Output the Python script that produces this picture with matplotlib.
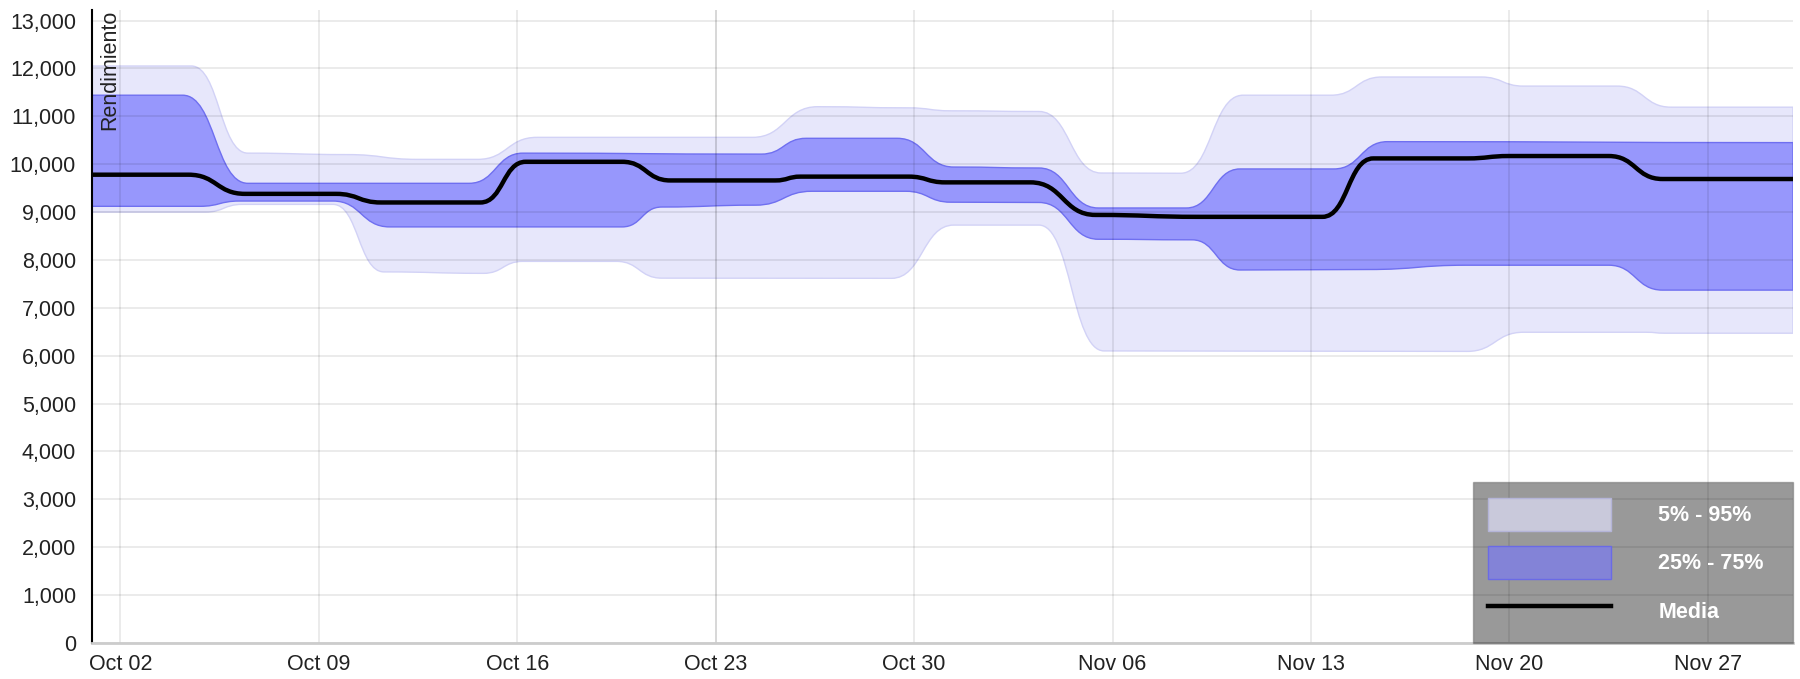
import numpy as np
import matplotlib
matplotlib.use("Agg")
import matplotlib.pyplot as plt
import matplotlib.dates as mdates
from matplotlib.patches import Patch, PathPatch
from matplotlib.path import Path
from matplotlib.lines import Line2D
from matplotlib.ticker import FuncFormatter

plt.rcParams["font.family"] = "Liberation Sans"

## Data, x = days since Oct 01
start = np.datetime64("2017-10-01T00:00")

media_days = [0, 3.4, 5.4, 8.6, 10.2, 13.7, 15.3, 18.7, 20.4, 24.1, 25.0, 28.8, 30.1,
              33.1, 35.4, 39.1, 43.4, 45.2, 48.5, 50.0, 53.5, 55.4, 60]
media_vals = [9780, 9780, 9380, 9380, 9200, 9200, 10050, 10050, 9660, 9660, 9740, 9740, 9620,
              9620, 8940, 8900, 8900, 10120, 10120, 10170, 10170, 9690, 9690]

p75_days = [0, 3.2, 5.5, 13.3, 15.2, 23.6, 25.2, 28.4, 30.4, 33.4, 35.5, 38.6, 40.5,
            43.8, 45.7, 60]
p75_vals = [11440, 11440, 9600, 9600, 10230, 10210, 10540, 10540, 9940, 9920, 9085, 9085, 9900,
            9900, 10470, 10450]

p25_days = [0, 3.8, 5.2, 8.5, 10.5, 18.7, 20.1, 23.4, 25.4, 28.7, 30.3, 33.4, 35.5, 38.8,
            40.5, 45.0, 48.5, 53.5, 55.4, 60]
p25_vals = [9120, 9120, 9230, 9230, 8690, 8690, 9105, 9144, 9434, 9434, 9206, 9200, 8432, 8420,
            7790, 7800, 7890, 7890, 7370, 7370]

p95_days = [0, 3.5, 5.5, 9.0, 11.5, 13.6, 15.7, 23.3, 25.6, 28.8, 30.3, 33.4, 35.6, 38.4,
            40.6, 43.7, 45.5, 49.0, 50.5, 53.8, 55.7, 60]
p95_vals = [12050, 12050, 10230, 10200, 10100, 10100, 10560, 10560, 11200, 11176, 11114, 11100,
            9815, 9810, 11440, 11440, 11820, 11820, 11630, 11630, 11190, 11190]

p05_days = [0, 4.0, 5.3, 8.5, 10.3, 13.8, 15.2, 18.5, 20.1, 28.2, 30.4, 33.4, 35.7, 48.5,
            50.5, 54.8, 55.5, 60]
p05_vals = [9000, 9000, 9160, 9160, 7750, 7720, 7970, 7970, 7620, 7616, 8728, 8728, 6100, 6090,
            6490, 6490, 6470, 6470]

legend_labels = ["5% - 95%", "25% - 75%", "Media"]


def to_num(days):
    d = start + np.round(np.asarray(days) * 24 * 60).astype(int).astype("timedelta64[m]")
    return mdates.date2num(d)


def smooth(xs, ys):
    # bezier segments with flat tangents at each point, like the original chart's curves
    verts = [(xs[0], ys[0])]
    codes = [Path.MOVETO]
    for i in range(1, len(xs)):
        xm = (xs[i - 1] + xs[i]) / 2
        verts += [(xm, ys[i - 1]), (xm, ys[i]), (xs[i], ys[i])]
        codes += [Path.CURVE4] * 3
    return verts, codes


def band(days_up, up, days_lo, lo):
    v1, c1 = smooth(to_num(days_up), up)
    v2, c2 = smooth(to_num(days_lo)[::-1], lo[::-1])
    c2[0] = Path.LINETO
    return Path(v1 + v2 + [v1[0]], c1 + c2 + [Path.CLOSEPOLY])


fig = plt.figure(figsize=(18, 6.79), dpi=100)
ax = fig.add_axes([0.0511, 0.053, 0.945, 0.9323])

ax.add_patch(PathPatch(band(p95_days, p95_vals, p05_days, p05_vals),
                       facecolor="#e7e7fb", edgecolor="#d2d2f6", lw=1, zorder=1))
ax.add_patch(PathPatch(band(p75_days, p75_vals, p25_days, p25_vals),
                       facecolor="#9797fc", edgecolor="#6f6ff0", lw=1, zorder=1.1))
mv, mc = smooth(to_num(media_days), media_vals)
ax.add_patch(PathPatch(Path(mv, mc), fill=False, edgecolor="black", lw=3.2, zorder=3,
                       joinstyle="round"))

ax.set_xlim(to_num([0, 60]))
ax.set_ylim(0, 13220)
ax.set_yticks(np.arange(0, 13001, 1000))
ax.yaxis.set_major_formatter(FuncFormatter(lambda v, p: "{:,.0f}".format(v)))
ax.xaxis.set_major_locator(mdates.WeekdayLocator(byweekday=mdates.MO))
ax.xaxis.set_major_formatter(mdates.DateFormatter("%b %d"))

ax.grid(True, color="black", alpha=0.1, lw=1.1)
ax.get_xgridlines()[3].set_alpha(0.2)

for s in ["top", "right"]:
    ax.spines[s].set_visible(False)
ax.spines["left"].set_color("black")
ax.spines["left"].set_linewidth(1.5)
ax.spines["bottom"].set_color("#cccccc")
ax.spines["bottom"].set_linewidth(2)

ax.tick_params(axis="y", length=0, pad=11.5, labelsize=15.5, labelcolor="#222222")
ax.tick_params(axis="x", length=0, pad=8, labelsize=15.5, labelcolor="#222222")

ax.text(0.0106, 1.0, "Rendimiento", rotation=90, ha="center", va="top",
        transform=ax.transAxes, fontsize=15.5, color="#222222")

handles = [Patch(facecolor="#c9c9db", edgecolor="#b4b4d8"),
           Patch(facecolor="#8383d7", edgecolor="#6a6ae6"),
           Line2D([], [], color="black", lw=3.2)]
leg = ax.legend(handles, legend_labels, loc="lower left", bbox_to_anchor=(0.8119, 0, 0.1881, 0.26),
                mode="expand", borderaxespad=0, fancybox=False, facecolor="black",
                framealpha=0.4, edgecolor="#555555", labelcolor="white", handlelength=5.7,
                handleheight=1.985, handletextpad=2.2, labelspacing=0.72, borderpad=0.71,
                prop={"weight": "bold", "size": 15.5, "family": "Liberation Sans"})
leg.get_frame().set_linewidth(1)

fig.savefig("out.png", dpi=100)
